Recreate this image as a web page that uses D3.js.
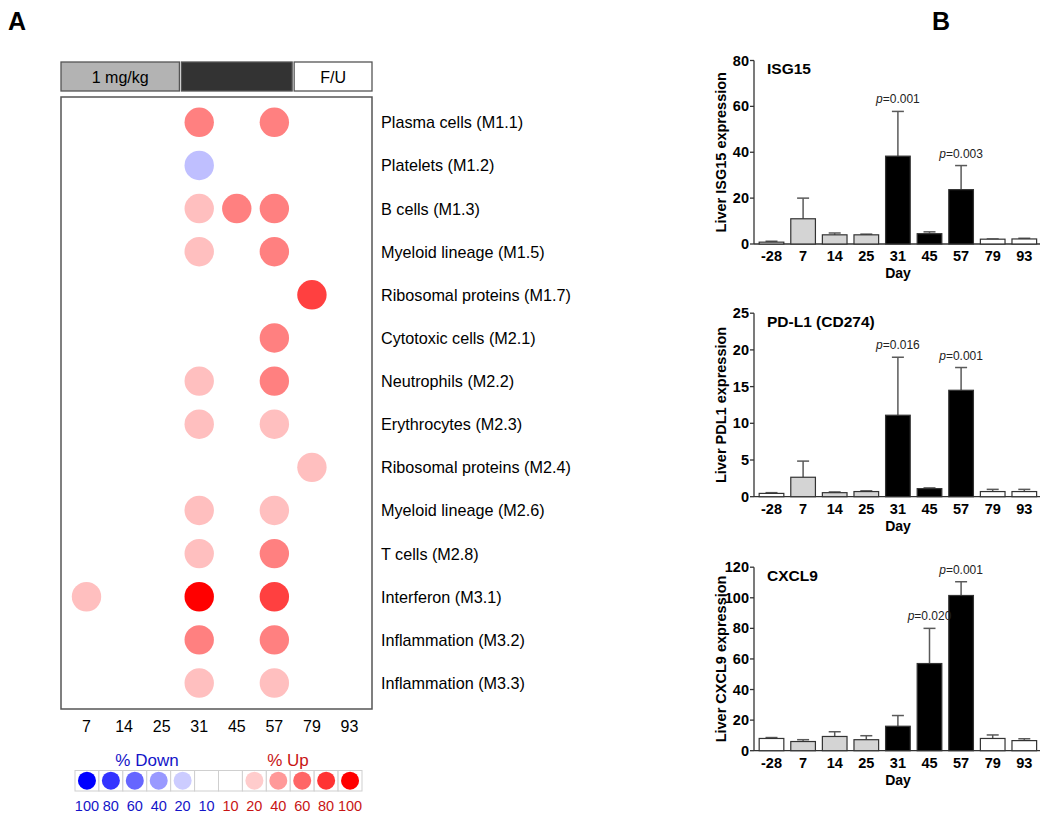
<!DOCTYPE html>
<html><head><meta charset="utf-8">
<script src="https://cdn.jsdelivr.net/npm/d3@7"></script>
<style>body{margin:0;background:#fff}svg{font-family:"Liberation Sans",Arial,sans-serif}</style>
</head><body>
<svg id="c" width="1050" height="822"></svg>
<script>
// ---------- Panel A data ----------
const dotDays = ["7","14","25","31","45","57","79","93"];
const modules = ["Plasma cells (M1.1)","Platelets (M1.2)","B cells (M1.3)","Myeloid lineage (M1.5)","Ribosomal proteins (M1.7)","Cytotoxic cells (M2.1)","Neutrophils (M2.2)","Erythrocytes (M2.3)","Ribosomal proteins (M2.4)","Myeloid lineage (M2.6)","T cells (M2.8)","Interferon (M3.1)","Inflammation (M3.2)","Inflammation (M3.3)"];
// percent of module transcripts changed (+ up / - down), per module, per day
const modulePct = [
  [0,0,0,50,0,50,0,0],
  [0,0,0,-25,0,0,0,0],
  [0,0,0,25,50,50,0,0],
  [0,0,0,25,0,50,0,0],
  [0,0,0,0,0,0,75,0],
  [0,0,0,0,0,50,0,0],
  [0,0,0,25,0,50,0,0],
  [0,0,0,25,0,25,0,0],
  [0,0,0,0,0,0,25,0],
  [0,0,0,25,0,25,0,0],
  [0,0,0,25,0,50,0,0],
  [25,0,0,100,0,75,0,0],
  [0,0,0,50,0,50,0,0],
  [0,0,0,25,0,25,0,0]
];
const phases = [{label:"1 mg/kg",days:["7","14","25"]},{label:"",days:["31","45","57"]},{label:"F/U",days:["79","93"]}];
const legendValues = [-100,-80,-60,-40,-20,-10,10,20,40,60,80,100];

// ---------- Panel B data ----------
const barDays = ["-28","7","14","25","31","45","57","79","93"];
const barGroup = ["pre","dose","dose","dose","high","high","high","fu","fu"];
const isg15Mean = [0.8,11,4,4,38.3,4.5,23.7,2.1,2.2];
const isg15Err  = [1.2,20,4.8,4.3,57.8,5.3,34.2,2.2,2.5];
const pdl1Mean  = [0.45,2.65,0.55,0.7,11.1,1.1,14.5,0.7,0.7];
const pdl1Err   = [0.55,4.85,0.65,0.8,19,1.2,17.6,1.0,1.0];
const cxcl9Mean = [8,6,9.3,7.2,16,57,101.5,8,6.6];
const cxcl9Err  = [8.6,7.2,12.4,9.8,23,80,110.5,10.3,7.8];
const isg15P = {"31":"0.001","57":"0.003"};
const pdl1P  = {"31":"0.016","57":"0.001"};
const cxcl9P = {"45":"0.020","57":"0.001"};
const isg15Ticks = [0,20,40,60,80];
const pdl1Ticks = [0,5,10,15,20,25];
const cxcl9Ticks = [0,20,40,60,80,100,120];

const svg = d3.select("#c");

// Panel letters
svg.append("text").attr("x",8).attr("y",30).attr("font-size",25).attr("font-weight","bold").text("A");
svg.append("text").attr("x",932).attr("y",30).attr("font-size",25).attr("font-weight","bold").text("B");

// ---------- Panel A ----------
const boxL = 61, boxR = 372, boxT = 97, boxB = 709;
const x = d3.scalePoint().domain(dotDays).range([86.5, 349.5]);
const y = d3.scalePoint().domain(modules).range([122.3, 683]);
const color = v => v >= 0 ? d3.interpolateRgb("#ffffff","#ff0000")(v/100) : d3.interpolateRgb("#ffffff","#0000ff")(-v/100);

// phase header
const step = x.step();
phases.forEach((p,i) => {
  const x0 = i===0 ? boxL : x(p.days[0]) - step/2 + 1;
  const x1 = i===phases.length-1 ? boxR : x(p.days[p.days.length-1]) + step/2 - 1;
  svg.append("rect").attr("x",x0).attr("y",62).attr("width",x1-x0).attr("height",29)
    .attr("fill", i===0 ? "#b3b3b3" : i===1 ? "#333333" : "#ffffff")
    .attr("stroke","#555").attr("stroke-width",1.3);
  if (p.label) svg.append("text").attr("x",(x0+x1)/2).attr("y",77).attr("text-anchor","middle")
    .attr("dominant-baseline","central").attr("font-size",16).text(p.label);
});

svg.append("rect").attr("x",boxL).attr("y",boxT).attr("width",boxR-boxL).attr("height",boxB-boxT)
  .attr("fill","#fff").attr("stroke","#555").attr("stroke-width",1.5);

const cells = [];
modulePct.forEach((row,i) => row.forEach((v,j) => { if (v !== 0) cells.push({m:modules[i], d:dotDays[j], v}); }));
svg.append("g").selectAll("circle").data(cells).join("circle")
  .attr("cx", d => x(d.d)).attr("cy", d => y(d.m)).attr("r",14.7)
  .attr("fill", d => color(d.v));

svg.append("g").selectAll("text").data(modules).join("text")
  .attr("x",381).attr("y", d => y(d)).attr("dominant-baseline","central")
  .attr("font-size",16.2).text(d => d);

svg.append("g").selectAll("text").data(dotDays).join("text")
  .attr("x", d => x(d)).attr("y",726).attr("text-anchor","middle").attr("dominant-baseline","central")
  .attr("font-size",16).text(d => d);

// legend
const lx = d3.scaleBand().domain(legendValues.map(String)).range([75,362]);
const lg = svg.append("g");
lg.selectAll("rect").data(legendValues).join("rect")
  .attr("x", d => lx(String(d))).attr("y",770.5).attr("width",lx.bandwidth()).attr("height",20.5)
  .attr("fill","#fff").attr("stroke","#cfcfcf").attr("stroke-width",1);
lg.selectAll("circle").data(legendValues.filter(v => Math.abs(v) > 10)).join("circle")
  .attr("cx", d => lx(String(d)) + lx.bandwidth()/2).attr("cy",780.7).attr("r",9)
  .attr("fill", d => color(d));
lg.selectAll("text.lv").data(legendValues).join("text").attr("class","lv")
  .attr("x", d => lx(String(d)) + lx.bandwidth()/2).attr("y",806).attr("text-anchor","middle")
  .attr("dominant-baseline","central").attr("font-size",14.5)
  .attr("fill", d => d < 0 ? "#1414c8" : "#c81414").text(d => Math.abs(d));
lg.append("text").attr("x",147).attr("y",760).attr("text-anchor","middle").attr("dominant-baseline","central")
  .attr("font-size",17).attr("fill","#1414c8").text("% Down");
lg.append("text").attr("x",288).attr("y",760).attr("text-anchor","middle").attr("dominant-baseline","central")
  .attr("font-size",17).attr("fill","#c81414").text("% Up");

// ---------- Panel B ----------
const groupFill = {pre:"#ffffff", dose:"#d4d4d4", high:"#000000", fu:"#ffffff"};
const bx = d3.scaleBand().domain(barDays).range([755.7,1040.1]).paddingInner(0.22).paddingOuter(0.11);

function barPanel(cfg) {
  const g = svg.append("g");
  const yy = d3.scaleLinear().domain([0, cfg.max]).range([cfg.y0, cfg.y0 - 183.5]);
  const axX = 754;
  // y axis
  g.append("line").attr("x1",axX).attr("x2",axX).attr("y1",yy(0)).attr("y2",yy(cfg.max)).attr("stroke","#333").attr("stroke-width",1.3);
  g.selectAll("line.t").data(cfg.ticks).join("line").attr("class","t")
    .attr("x1",axX-4).attr("x2",axX).attr("y1",d=>yy(d)).attr("y2",d=>yy(d)).attr("stroke","#333").attr("stroke-width",1.3);
  g.selectAll("text.t").data(cfg.ticks).join("text").attr("class","t")
    .attr("x",axX-5).attr("y",d=>yy(d)).attr("text-anchor","end").attr("dominant-baseline","central")
    .attr("font-size",14.5).attr("font-weight","bold").text(d=>d);
  // x axis
  g.append("line").attr("x1",axX).attr("x2",1040).attr("y1",yy(0)).attr("y2",yy(0)).attr("stroke","#333").attr("stroke-width",1.3);
  g.selectAll("text.x").data(barDays).join("text").attr("class","x")
    .attr("x",d=>bx(d)+bx.bandwidth()/2).attr("y",yy(0)+12).attr("text-anchor","middle").attr("dominant-baseline","central")
    .attr("font-size",14.5).attr("font-weight","bold").text(d=>d);
  g.append("text").attr("x",898).attr("y",yy(0)+29).attr("text-anchor","middle").attr("dominant-baseline","central")
    .attr("font-size",14).attr("font-weight","bold").text("Day");
  // y title
  g.append("text").attr("transform",`translate(721,${yy(cfg.max/2)}) rotate(-90)`)
    .attr("text-anchor","middle").attr("dominant-baseline","central")
    .attr("font-size",14.5).attr("font-weight","bold").text(cfg.ytitle);
  // panel title
  g.append("text").attr("x",767).attr("y",yy(cfg.max)+8).attr("dominant-baseline","central")
    .attr("font-size",15.5).attr("font-weight","bold").text(cfg.title);
  // error bars
  const eg = g.append("g");
  barDays.forEach((d,i) => {
    const cx = bx(d)+bx.bandwidth()/2;
    eg.append("line").attr("x1",cx).attr("x2",cx).attr("y1",yy(cfg.mean[i])).attr("y2",yy(cfg.err[i])).attr("stroke","#5a5a5a").attr("stroke-width",1.5);
    eg.append("line").attr("x1",cx-6).attr("x2",cx+6).attr("y1",yy(cfg.err[i])).attr("y2",yy(cfg.err[i])).attr("stroke","#5a5a5a").attr("stroke-width",1.5);
  });
  // bars
  g.selectAll("rect").data(barDays).join("rect")
    .attr("x",d=>bx(d)).attr("width",bx.bandwidth())
    .attr("y",(d,i)=>yy(cfg.mean[i])).attr("height",(d,i)=>yy(0)-yy(cfg.mean[i]))
    .attr("fill",(d,i)=>groupFill[barGroup[i]]).attr("stroke","#333").attr("stroke-width",1.2);
  // p-values
  Object.entries(cfg.p).forEach(([d,pv]) => {
    const i = barDays.indexOf(d);
    const t = g.append("text").attr("x",bx(d)+bx.bandwidth()/2).attr("y",yy(cfg.err[i])-8)
      .attr("text-anchor","middle").attr("font-size",12).attr("fill","#222");
    t.append("tspan").attr("font-style","italic").text("p");
    t.append("tspan").text("=" + pv);
  });
}

barPanel({y0:244, max:80, ticks:isg15Ticks, mean:isg15Mean, err:isg15Err, p:isg15P, title:"ISG15", ytitle:"Liver ISG15 expression"});
barPanel({y0:496.7, max:25, ticks:pdl1Ticks, mean:pdl1Mean, err:pdl1Err, p:pdl1P, title:"PD-L1 (CD274)", ytitle:"Liver PDL1 expression"});
barPanel({y0:750.7, max:120, ticks:cxcl9Ticks, mean:cxcl9Mean, err:cxcl9Err, p:cxcl9P, title:"CXCL9", ytitle:"Liver CXCL9 expression"});
</script>
</body></html>
